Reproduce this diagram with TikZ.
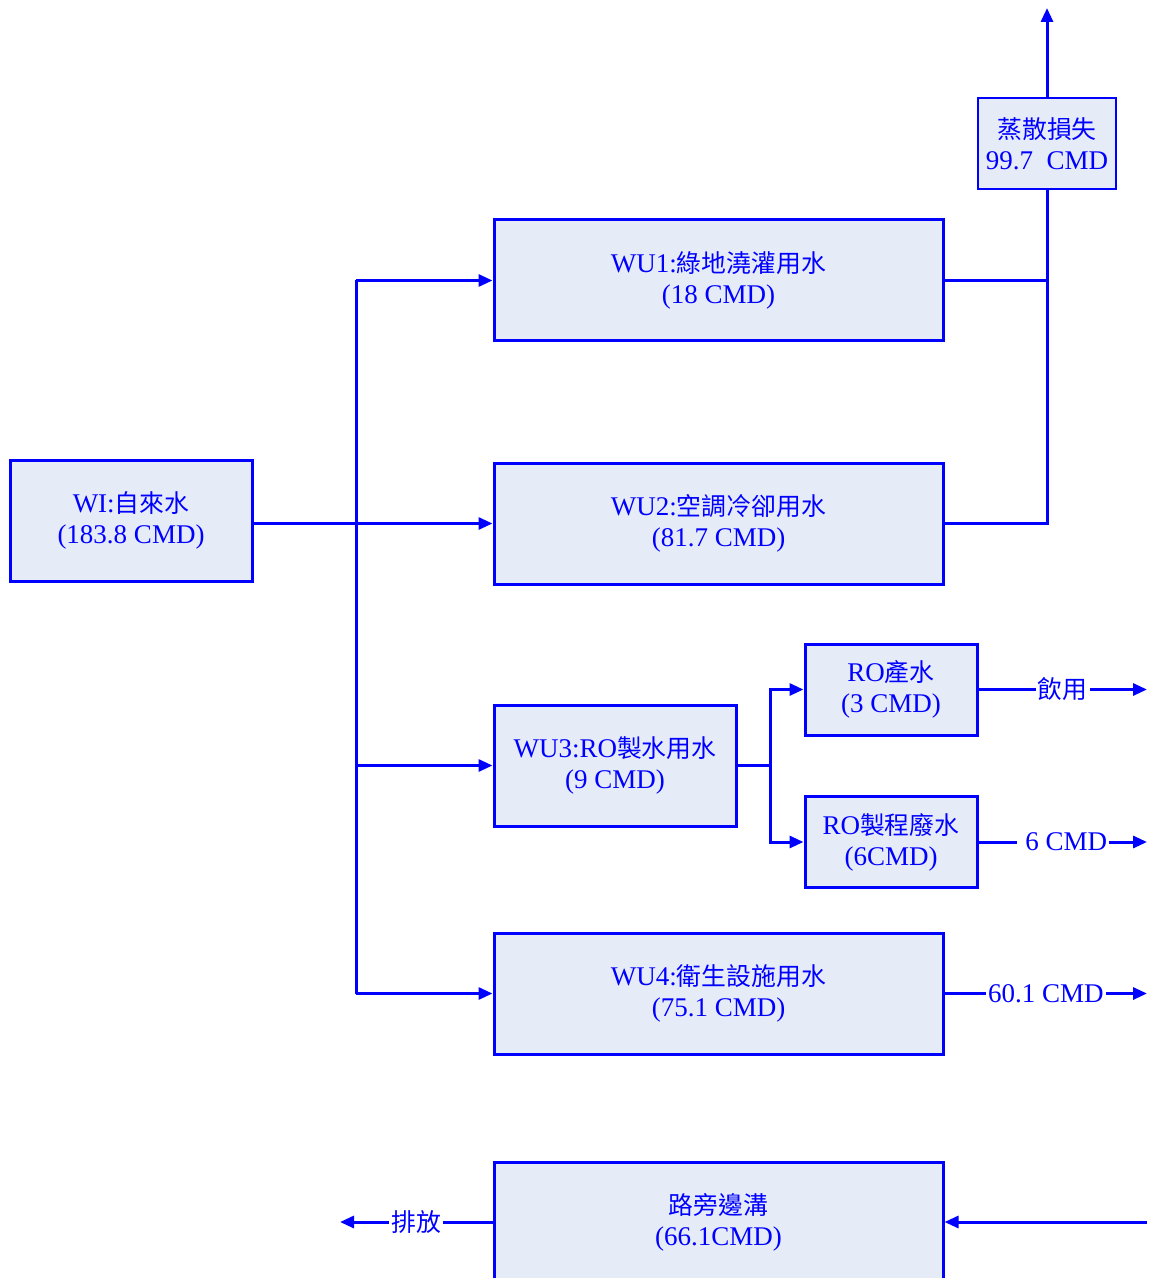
\documentclass[tikz,border=0pt]{standalone}
\usepackage{fontspec}
\setmainfont{Liberation Serif}
\newfontfamily\cjk{Noto Sans CJK TC}[Scale=0.92]
\usetikzlibrary{arrows.meta}
\definecolor{boxfill}{RGB}{230,236,247}
\newcommand{\zh}[1]{{\cjk #1}}
\begin{document}
\begin{tikzpicture}[x=0.5pt,y=-0.5pt,
    font=\fontsize{13.5}{15.5}\selectfont,
    flow/.style={draw=blue,line width=1.5pt,fill=boxfill,text=blue,align=center,inner sep=0pt},
    wide/.style={minimum width=224.5pt,minimum height=60.5pt},
    mid/.style={minimum width=121pt,minimum height=60.5pt},
    small/.style={minimum width=86pt,minimum height=45.5pt},
    line/.style={draw=blue,line width=1.5pt},
    pipe/.style={line,-{Triangle[length=7pt,width=6pt]}},
    lbl/.style={fill=white,text=blue,inner sep=1pt}]
    \useasboundingbox (0,0) rectangle (1148,1278);

    \node[flow,mid] (wi) at (131,520.5) {WI:\zh{自來水}\\(183.8 CMD)};
    \node[flow,wide] (wu1) at (718.5,280.5) {WU1:\zh{綠地澆灌用水}\\(18 CMD)};
    \node[flow,wide] (wu2) at (718.5,523.5) {WU2:\zh{空調冷卻用水}\\(81.7 CMD)};
    \node[flow,mid] (wu3) at (615,765.5) {WU3:RO\zh{製水用水}\\(9 CMD)};
    \node[flow,small] (ro1) at (891,689.5) {RO\zh{產水}\\(3 CMD)};
    \node[flow,small] (ro2) at (891,842) {RO\zh{製程廢水}\\(6CMD)};
    \node[flow,wide] (wu4) at (718.5,993.5) {WU4:\zh{衛生設施用水}\\(75.1 CMD)};
    \node[flow,wide,minimum height=60pt] (ditch) at (718.5,1222) {\zh{路旁邊溝}\\(66.1CMD)};
    \node[flow,line width=0.6pt,minimum width=69pt,minimum height=45.5pt] (evap) at (1047,143.5) {\zh{蒸散損失}\\99.7\ \ CMD};

    \coordinate (bus1) at (356,280.5);
    \coordinate (bus3) at (356,765.5);
    \coordinate (bus4) at (356,993.5);
    \coordinate (split) at (770,765.5);
    \coordinate (j1) at (1047,280.5);
    \coordinate (j2) at (1047,523.5);
    \coordinate (sky) at (1047,8);
    \coordinate (out1) at (1147,689.5);
    \coordinate (out2) at (1147,842);
    \coordinate (out4) at (1147,993.5);
    \coordinate (inR) at (1147,1222);
    \coordinate (outL) at (340,1222);

    \draw[line] (bus1) -- (bus4);
    \path (bus1) edge[pipe] (wu1.west);
    \path (wi.east |- wu2.west) edge[pipe] (wu2.west);
    \path (bus3) edge[pipe] (wu3.west);
    \path (bus4) edge[pipe] (wu4.west);

    \draw[line] (wu3.east) -- (split);
    \draw[pipe] (split) |- (ro1.west);
    \draw[pipe] (split) |- (ro2.west);

    \draw[line] (wu1.east) -- (j1);
    \draw[line] (wu2.east) -- (j2) -- (evap.south);
    \path (evap.north) edge[pipe] (sky);

    \path (ro1.east) edge[pipe] node[lbl] {\zh{飲用}} (out1);
    \path (ro2.east) edge[pipe] node[lbl] {\ 6 CMD} (out2);
    \path (wu4.east) edge[pipe] node[lbl] {60.1 CMD} (out4);
    \path (inR) edge[pipe] (ditch.east);
    \path (ditch.west) edge[pipe] node[lbl] {\zh{排放}} (outL);
\end{tikzpicture}
\end{document}
